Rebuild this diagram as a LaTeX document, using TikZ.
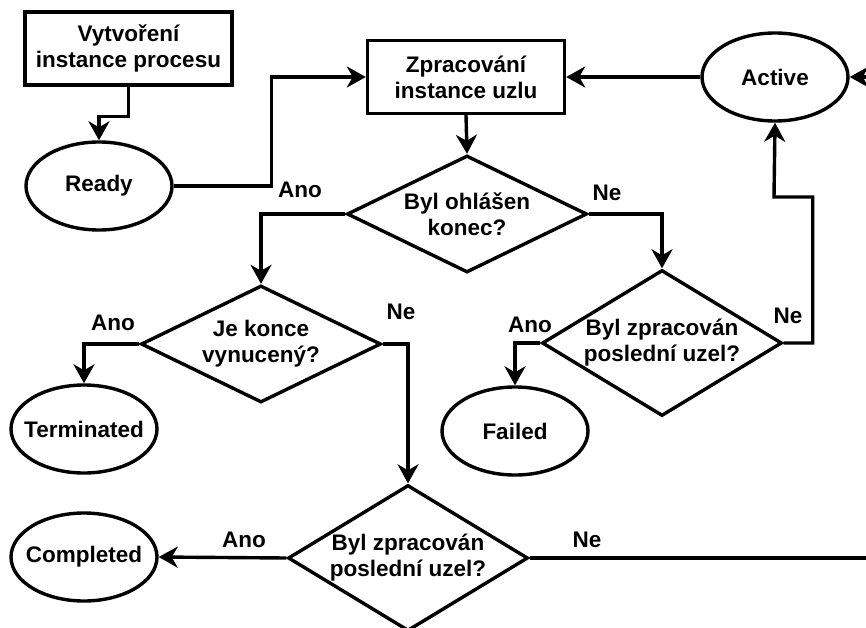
\documentclass[tikz,border=0pt]{standalone}
\usepackage{fontspec}
\setmainfont{Liberation Sans}
\usetikzlibrary{shapes.geometric, arrows.meta}

\begin{document}
\begin{tikzpicture}[
        x=1pt, y=-1pt, % Pixel-like units, y pointing down
        font=\fontsize{22.5}{26}\selectfont\bfseries, % Text styling
        every path/.style={line width=3.4pt}, % Line styling
        >={Stealth[length=19pt, width=21pt, inset=6pt]}, % Arrow styling
        every label/.style={align=center},
        proces/.style={draw, minimum height=73pt, align=center, inner sep=0pt}, % Box styling
        stav/.style={ellipse, draw, minimum width=146pt, minimum height=88pt, inner sep=0pt},
        dotaz/.style={diamond, draw, minimum width=240pt, minimum height=117pt, inner sep=0pt},
        volba/.style={inner sep=0pt}
        ]

        \useasboundingbox (0,0) rectangle (866,628);

        % Define nodes
        \node[proces, minimum width=207pt] (vytvoreni) at (128.5,48.5) {Vytvoření\\instance procesu};
        \node[proces, minimum width=197pt] (zpracovani) at (466,77) {Zpracování\\instance uzlu};
        \node[stav, label=center:Ready] (ready) at (99,186) {};
        \node[stav, label=center:Active] (active) at (775,77) {};
        \node[dotaz, label={center:Byl ohlášen\\konec?}] (konec) at (467,214) {};
        \node[dotaz, label={center:Je konce\\vynucený?}] (vynuceny) at (261,344) {};
        \node[dotaz, minimum height=146pt, label={center:Byl zpracován\\poslední uzel?}] (posledni) at (662,343) {};
        \node[dotaz, minimum height=146pt, label={center:Byl zpracován\\poslední uzel?}] (posledni2) at (408,558) {};
        \node[stav, label=center:Terminated] (terminated) at (84,429) {};
        \node[stav, label=center:Failed] (failed) at (515,431) {};
        \node[stav, label=center:Completed] (completed) at (84,557) {};

        \coordinate (vstup) at (900,77);
        \coordinate (vystup) at (900,558);
        \coordinate (zlom) at (774,197);

        % Answer labels
        \node[volba] (ano1) at (300,190) {Ano};
        \node[volba] (ne1) at (607,193) {Ne};
        \node[volba] (ano2) at (113,323) {Ano};
        \node[volba] (ne2) at (401,312) {Ne};
        \node[volba] (ano3) at (530,325) {Ano};
        \node[volba] (ne3) at (788,316) {Ne};
        \node[volba] (ano4) at (244,540) {Ano};
        \node[volba] (ne4) at (587,540) {Ne};

        % Draw arrows
        \draw[->] (vytvoreni.south) -- ++(0,30) -| (ready.north);
        \draw[->] (ready.east) -- ++(98,0) |- (zpracovani.west);
        \draw[->] (vstup) -- (active.east);
        \draw[->] (active.west) -- (zpracovani.east);
        \draw[->] (zpracovani.south) -- (konec.north);
        \draw[->] (konec.west) -| (vynuceny.north);
        \draw[->] (konec.east) -| (posledni.north);
        \draw[->] (vynuceny.west) -| (terminated.north);
        \draw[->] (vynuceny.east) -| (posledni2.north);
        \draw[->] (posledni.west) -| (failed.north);
        \draw[->] (posledni.east) -- ++(29,0) |- (zlom) -- (active.south);
        \draw[->] (posledni2.west) -- (completed.east);
        \draw (posledni2.east) -- (vystup);

    \end{tikzpicture}
\end{document}
